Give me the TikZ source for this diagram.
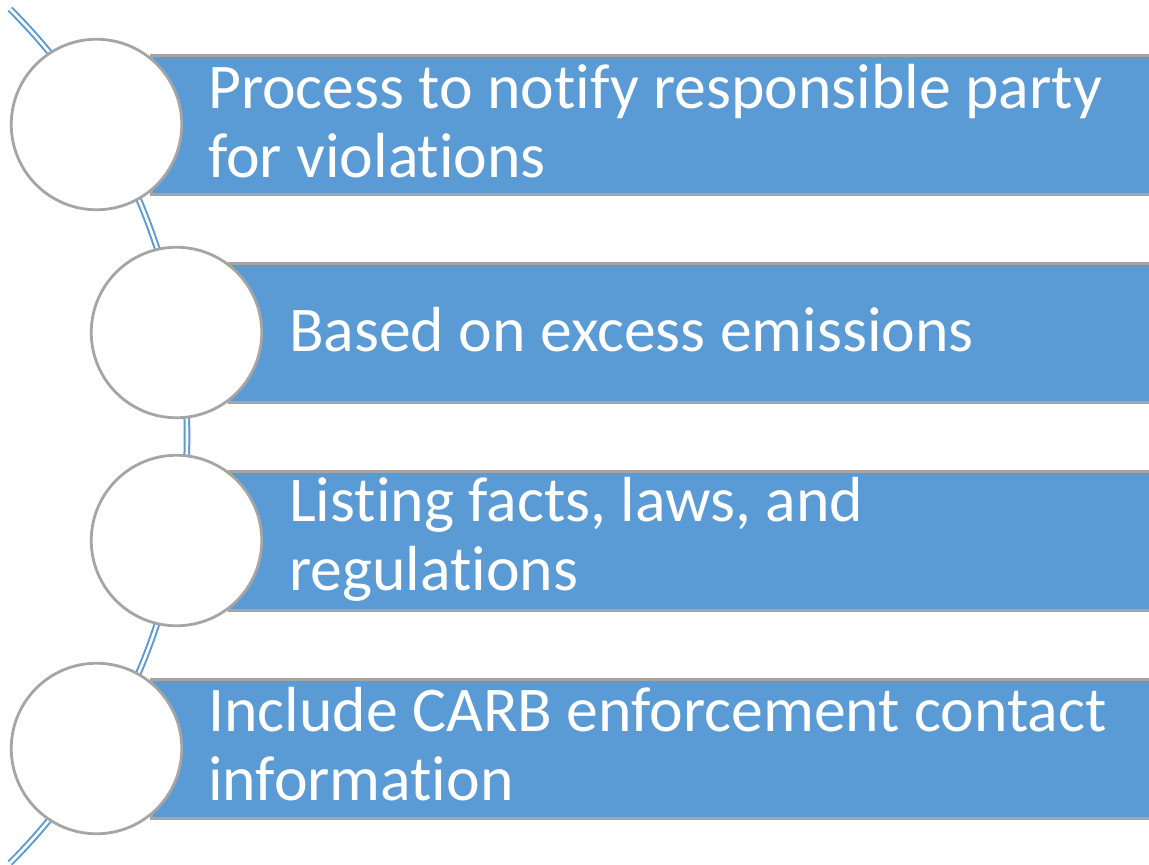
\documentclass[tikz,border=0pt]{standalone}
\usepackage{fontspec}
\setmainfont{Carlito}[Ligatures={NoCommon,NoRare}]
\definecolor{barblue}{HTML}{5B9BD5}
\definecolor{edgegray}{HTML}{A5A5A5}
\begin{document}
\begin{tikzpicture}[x=1pt,y=-1pt,
  bar/.style={rectangle,draw=edgegray,line width=3pt,fill=barblue,inner sep=0pt,minimum height=139pt,minimum width=1020pt,anchor=west},
  disc/.style={circle,draw=edgegray,line width=2.8pt,fill=white,minimum size=170.5pt,inner sep=0pt},
  txt/.style={text=white,font=\fontsize{63.7}{68.5}\selectfont,align=left,anchor=base west,inner sep=0pt},
  spine/.style={draw=barblue,line width=2pt,double=white,double distance=2.6pt}]
\useasboundingbox (0,0) rectangle (1149,865);
% spine curve
\coordinate (spinetop) at (10,9);
\draw[spine] (spinetop) arc[start angle=-45.03, end angle=45.03, radius=603.6];
% bars
\node[bar] (bar1) at (150,124.5) {};
\node[bar] (bar2) at (228,332.5) {};
\node[bar] (bar3) at (228,540.5) {};
\node[bar] (bar4) at (150,748.5) {};
% circles
\node[disc] (c1) at (96.5,124.5) {};
\node[disc] (c2) at (176.5,332.5) {};
\node[disc] (c3) at (176.5,540.5) {};
\node[disc] (c4) at (96.5,748.5) {};
% texts (base anchor = last line's baseline)
\node[txt] (t1) at (208,177) {Process to notify responsible party\\for violations};
\node[txt] (t2) at (289,351) {Based on excess emissions};
\node[txt] (t3) at (289,590) {Listing facts, laws, and\\regulations};
\node[txt] (t4) at (208,800) {Include CARB enforcement contact\\information};
\end{tikzpicture}
\end{document}
